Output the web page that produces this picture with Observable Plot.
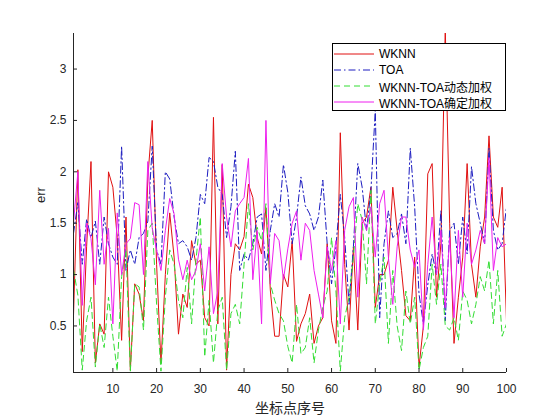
<!DOCTYPE html>
<html><head><meta charset="utf-8">
<script src="https://cdn.jsdelivr.net/npm/d3@7"></script>
<script src="https://cdn.jsdelivr.net/npm/@observablehq/plot@0.6"></script>
<style>
body{margin:0;background:#fff;}
#wrap{position:relative;width:560px;height:420px;font-family:"Liberation Sans",Arial,"Noto Sans CJK SC",sans-serif;}
#legend{position:absolute;left:332px;top:43px;width:174px;height:68px;border:1px solid #000;background:#fff;box-sizing:border-box;font-size:12px;color:#000;padding-top:2px;}
.row{height:16px;display:flex;align-items:center;}
.row svg{margin-left:1px;margin-right:5px;}
</style>
</head><body>
<div id="wrap"></div>
<script>
const xTicks = [10,20,30,40,50,60,70,80,90,100];
const yTicks = [0.5,1,1.5,2,2.5,3];
const xDomain = [1,100];
const yDomain = [0.047,3.346];
const seriesNames = ["WKNN","TOA","WKNN-TOA动态加权","WKNN-TOA确定加权"];

const wknn = [0.6,2.02,0.25,1.27,2.1,0.14,0.52,0.42,2.0,1.85,1.36,0.36,1.56,0.07,0.91,0.81,0.55,1.95,2.5,1.1,0.14,1.0,1.6,1.17,0.42,
0.81,0.68,1.33,1.1,1.14,0.58,0.5,2.53,0.52,2.07,0.07,1.0,1.3,1.24,1.37,1.88,1.75,1.36,1.2,1.65,0.85,0.4,0.4,1.0,0.88,
1.33,0.35,0.52,0.62,0.81,0.33,0.5,0.58,1.3,0.55,0.33,2.38,1.1,0.46,1.27,0.46,1.5,1.56,1.85,0.68,1.0,1.0,1.14,1.85,1.43,
1.04,0.6,0.55,1.17,0.1,0.5,1.98,2.08,0.78,1.3,3.4,1.5,0.33,0.78,1.17,2.08,1.1,0.78,1.27,1.56,2.35,1.56,1.46,1.85,0.55];

const toa = [1.4,1.7,1.1,1.54,1.36,1.52,1.1,1.56,1.3,1.17,1.1,2.25,1.04,1.24,1.1,1.36,1.4,1.52,2.25,1.24,1.1,2.0,1.93,1.56,1.3,
1.33,1.27,1.14,1.36,1.78,1.69,2.14,2.1,1.85,1.78,1.36,1.66,2.2,1.04,1.2,1.14,1.3,1.56,1.59,1.04,1.43,1.69,1.56,2.07,1.8,
1.3,1.56,1.95,1.67,1.59,1.43,1.56,1.92,1.3,0.91,1.27,1.78,1.36,0.71,1.27,2.08,1.85,1.43,1.82,2.6,0.58,1.3,1.62,1.36,1.4,
1.59,1.3,2.23,1.66,0.81,0.52,0.9,1.2,1.0,1.62,0.55,1.43,1.5,1.1,1.56,1.2,2.05,1.69,1.5,1.3,2.23,1.43,1.24,1.3,1.66];

const dynamicW = [1.05,0.8,0.07,0.55,0.78,0.1,0.52,0.29,0.78,0.4,0.06,0.98,1.24,0.06,0.91,0.88,0.46,1.43,1.5,0.71,0.06,0.78,1.24,1.1,0.75,
0.58,1.07,0.52,1.14,1.56,0.2,0.75,0.14,0.65,0.78,0.07,0.62,0.71,0.52,1.1,1.69,1.24,1.46,1.33,1.69,0.91,0.75,0.62,0.55,0.3,
0.14,0.71,0.23,0.29,0.58,0.14,0.46,0.68,0.84,1.36,0.84,0.06,0.58,0.78,1.17,1.69,1.53,0.91,1.82,0.52,0.91,1.17,0.33,1.04,0.5,
0.26,0.84,0.52,0.78,0.07,0.29,0.4,1.1,0.71,1.1,0.5,0.46,0.58,0.36,0.84,0.75,0.52,0.71,0.98,0.84,1.14,0.52,1.04,0.4,0.52];

const fixedW = [1.5,2.0,0.7,1.5,1.35,0.9,1.82,1.1,1.45,0.52,1.6,1.0,1.3,1.35,1.7,1.68,1.0,2.1,1.45,1.24,1.04,1.43,1.74,1.59,1.15,
0.95,1.14,0.95,1.04,1.3,0.84,1.27,0.62,0.84,2.08,1.56,1.27,1.62,1.69,1.75,2.13,0.95,1.43,0.52,2.5,0.91,1.4,1.33,0.95,1.25,
1.5,1.62,1.14,1.5,1.43,1.04,0.81,0.58,1.27,1.04,1.33,0.52,1.43,1.66,1.75,0.78,1.56,1.43,1.66,1.17,1.69,1.82,1.17,0.71,1.27,
1.56,1.56,1.24,1.07,1.24,0.46,1.1,1.56,1.0,1.43,0.68,1.36,0.58,1.43,0.78,1.5,1.1,1.24,1.43,1.3,2.14,1.04,1.36,1.27,1.3];

const styles = [
  {color:"#e01010", dash:null},
  {color:"#1c1cc0", dash:"7,3,1.5,3"},
  {color:"#33dd33", dash:"6,4"},
  {color:"#ee1fee", dash:null}
];
const allValues = [wknn, toa, dynamicW, fixedW];

const lineMarks = allValues.map((vals, k) => {
  const data = vals.map((v, i) => ({x: i + 1, y: v}));
  const o = {x: "x", y: "y", stroke: styles[k].color, strokeWidth: 1, clip: true};
  if (styles[k].dash) o.strokeDasharray = styles[k].dash;
  return Plot.line(data, o);
});

const W = 560, H = 420, mL = 73, mR = 54, mT = 33, mB = 48;
const axisColor = "#262626";

const chart = Plot.plot({
  width: W, height: H,
  marginLeft: mL, marginRight: mR, marginTop: mT, marginBottom: mB,
  style: {fontFamily: '"Liberation Sans", Arial, "Noto Sans CJK SC", sans-serif', fontSize: "12px", color: axisColor, background: "transparent"},
  x: {domain: xDomain},
  y: {domain: yDomain},
  marks: [
    ...lineMarks,
    Plot.ruleX([xDomain[0]], {stroke: axisColor}),
    Plot.ruleY([yDomain[0]], {stroke: axisColor}),
    Plot.tickX(xTicks, {x: d => d, stroke: axisColor, insetTop: H - mT - mB - 4}),
    Plot.tickY(yTicks, {y: d => d, stroke: axisColor, insetRight: W - mL - mR - 4}),
    Plot.axisX(xTicks, {tickSize: 0, tickPadding: 12, label: null, fill: axisColor, tickFormat: d => String(d)}),
    Plot.axisY(yTicks, {tickSize: 0, tickPadding: 7, label: null, fill: axisColor, tickFormat: d => String(d)}),
    Plot.text(["坐标点序号"], {frameAnchor: "bottom", lineAnchor: "middle", dy: 36, fontSize: 14, fill: axisColor, fontFamily: '"Noto Sans CJK SC", sans-serif'}),
    Plot.text(["err"], {frameAnchor: "left", dx: -33, rotate: -90, fontSize: 13, fill: axisColor})
  ]
});
const wrap = document.getElementById("wrap");
wrap.appendChild(chart);

const legend = document.createElement("div");
legend.id = "legend";
seriesNames.forEach((name, k) => {
  const row = document.createElement("div");
  row.className = "row";
  const dash = styles[k].dash ? ` stroke-dasharray="${styles[k].dash}"` : "";
  row.innerHTML = `<svg width="40" height="6"><line x1="0" y1="3" x2="40" y2="3" stroke="${styles[k].color}" stroke-width="1"${dash}/></svg><span>${name}</span>`;
  legend.appendChild(row);
});
wrap.appendChild(legend);
</script>
</body></html>
